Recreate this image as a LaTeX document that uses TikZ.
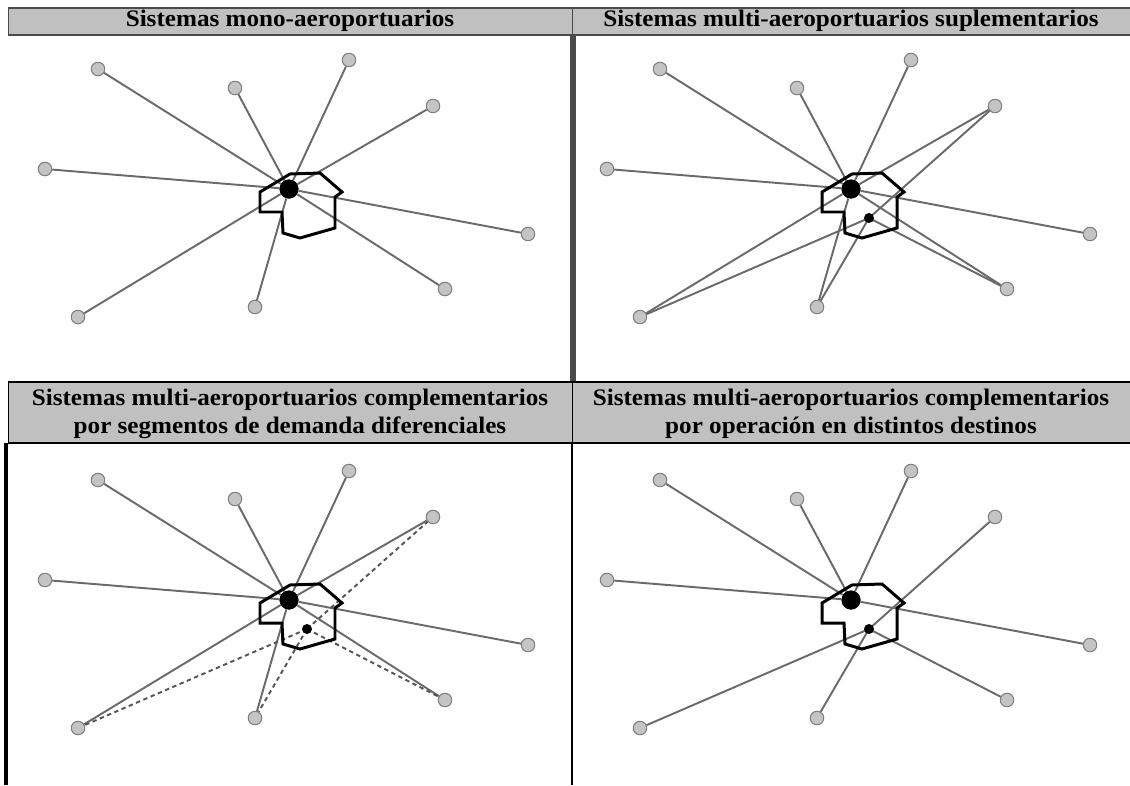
\documentclass[tikz,border=0pt]{standalone}
\usepackage{fontspec}
\setmainfont{Liberation Serif}
\usepackage{graphicx}

\definecolor{cabecera}{HTML}{C0C0C0}
\definecolor{ruta}{HTML}{6A6A6A}
\definecolor{borde}{HTML}{4A4A4A}
\definecolor{nodo}{HTML}{C4C4C4}

% Texto de las cabeceras: negrita ensanchada
\newcommand{\cabtxt}[1]{\scalebox{1.06}[1]{\fontsize{13.5}{15.6}\selectfont\bfseries
    \begin{tabular}{@{}c@{}}#1\end{tabular}}}

\begin{document}
\begin{tikzpicture}[x=0.02cm, y=-0.02cm,
    apto/.style={circle, draw=gray, fill=nodo, line width=0.6pt, inner sep=0pt, minimum size=0.27cm},
    hub/.style={circle, fill=black, inner sep=0pt, minimum size=0.38cm},
    hub2/.style={circle, fill=black, inner sep=0pt, minimum size=0.2cm},
    enlace/.style={draw=ruta, line width=1.1pt},
    enlace2/.style={draw=ruta!80!black, line width=1.1pt, dash pattern=on 2.5pt off 2pt},
    ciudad/.style={draw=black, line width=1.7pt, line join=miter}]
    \useasboundingbox (0,0) rectangle (1130,785);

    % --- CABECERA SUPERIOR ---
    \fill[cabecera] (8,8) rectangle (1130,35);
    \draw[borde, line width=1.2pt] (8,8) -- (1130,8);
    \draw[borde, line width=1.2pt] (8,35) -- (1130,35);
    \draw[borde, thin] (8,8) -- (8,35);
    \draw[borde, thin] (572,8) -- (572,35);
    \node (tit-a) at (290,21.5) {\cabtxt{Sistemas mono-aeroportuarios}};
    \node (tit-b) at (851,21.5) {\cabtxt{Sistemas multi-aeroportuarios suplementarios}};

    % Marco del panel superior derecho
    \draw[borde, line width=3.5pt] (573,35) -- (573,382);

    % --- CABECERA INFERIOR ---
    \fill[cabecera] (8,382) rectangle (1130,443);
    \draw[line width=1pt] (8,382) -- (1130,382);
    \draw[line width=1.5pt] (8,443) -- (1130,443);
    \draw[thin] (8,382) -- (8,443);
    \draw[thin] (572,382) -- (572,443);
    \node (tit-c) at (290,414) {\cabtxt{Sistemas multi-aeroportuarios complementarios\\
        por segmentos de demanda diferenciales}};
    \node (tit-d) at (851,414) {\cabtxt{Sistemas multi-aeroportuarios complementarios\\
        por operación en distintos destinos}};

    % Bordes de los paneles inferiores
    \draw[line width=1.8pt] (6,443) -- (6,785);
    \draw[line width=1.4pt] (572,443) -- (572,785);

    % --- PANELES: ciudad, aeropuertos y destinos ---
    \foreach \p/\cx/\cy in {a/289/189, b/851/189, c/289/600, d/851/600}{
        \begin{scope}[shift={(\cx,\cy)}]
            % Destinos
            \foreach \k/\dx/\dy in {1/-191/-120, 2/-54/-101, 3/60/-129, 4/144/-83, 5/-244/-20,
                                    6/239/45, 7/-211/128, 8/-34/118, 9/156/100}
                \node[apto] (\p-\k) at (\dx,\dy) {};
            % Aeropuerto principal y secundario
            \node[hub] (\p-big) at (0,0) {};
            \coordinate (\p-small) at (18,29);
        \end{scope}
    }

    % Rutas desde el aeropuerto principal
    \foreach \p in {a,b,c}
        \foreach \k in {1,...,9}
            \draw[enlace] (\p-big) -- (\p-\k);
    \foreach \k in {1,2,3,5,6}
        \draw[enlace] (d-big) -- (d-\k);

    % Rutas desde el aeropuerto secundario
    \foreach \p in {b,d}
        \foreach \k in {4,7,8,9}
            \draw[enlace] (\p-small) -- (\p-\k);
    \foreach \k in {4,7,8,9}
        \draw[enlace2] (c-small) -- (c-\k);

    % Contorno de la ciudad y aeropuertos encima
    \foreach \p/\cx/\cy in {a/289/189, b/851/189, c/289/600, d/851/600}{
        \begin{scope}[shift={(\cx,\cy)}]
            \draw[ciudad] (-29,3) -- (1,-15) -- (31,-16) -- (53,3) -- (46,8) -- (46,39)
                -- (11,49) -- (-6,44) -- (-7,23) -- (-29,23) -- cycle;
        \end{scope}
        \node[hub] at (\p-big) {};
    }
    \foreach \p in {b,c,d}
        \node[hub2] (\p-dot) at (\p-small) {};

\end{tikzpicture}
\end{document}
